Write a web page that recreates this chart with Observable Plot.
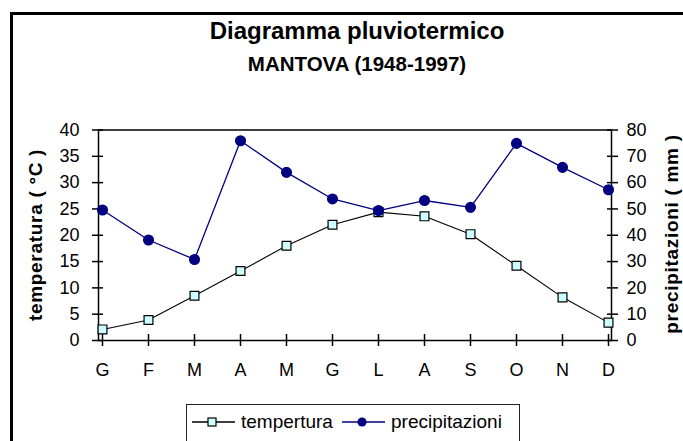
<!DOCTYPE html>
<html>
<head>
<meta charset="utf-8">
<script src="https://cdn.jsdelivr.net/npm/d3@7"></script>
<script src="https://cdn.jsdelivr.net/npm/@observablehq/plot@0.6"></script>
<style>
  html, body { margin: 0; padding: 0; background: #fff; }
  #wrap { position: relative; width: 683px; height: 441px; overflow: hidden; font-family: "Liberation Sans", Arial, sans-serif; background: #fff; }
  #frame { position: absolute; left: 10px; top: 12px; width: 720px; height: 500px; border: 3px solid #000; pointer-events: none; }
  #plot { position: absolute; left: 0; top: 0; }
  .title { position: absolute; left: 357px; transform: translateX(-50%); white-space: nowrap; color: #000; }
  #t1 { top: 17px; font-size: 24px; font-weight: bold; }
  #t2 { top: 52px; font-size: 20.5px; font-weight: bold; }
  .ylab { position: absolute; white-space: nowrap; font-size: 19px; font-weight: bold; letter-spacing: 0.7px; transform: translate(-50%, -50%) rotate(-90deg); }
  #legend { position: absolute; left: 186px; top: 404px; width: 332px; height: 60px; border: 1.5px solid #222; background: #fff; }
  #legend .item { position: absolute; top: 6px; display: flex; align-items: center; font-size: 19px; }
  #legend svg { display: block; margin-right: 6px; }
</style>
</head>
<body>
<div id="wrap">
  <div id="plot"></div>
  <div id="frame"></div>
  <div class="title" id="t1">Diagramma pluviotermico</div>
  <div class="title" id="t2">MANTOVA (1948-1997)</div>
  <div class="ylab" id="ylL" style="left:36px; top:235px;">temperatura ( °C )</div>
  <div class="ylab" id="ylR" style="left:672px; top:234px;">precipitazioni ( mm )</div>
  <div id="legend"></div>
</div>
<script>
const months = ["G","F","M","A","M","G","L","A","S","O","N","D"];
const temperatura = [2.1, 3.9, 8.5, 13.2, 18.0, 22.0, 24.4, 23.6, 20.2, 14.2, 8.2, 3.4];
const precipitazioni = [49.6, 38.2, 30.8, 75.9, 63.9, 53.8, 49.4, 53.2, 50.6, 74.9, 65.8, 57.3];
const tempTicks = [0, 5, 10, 15, 20, 25, 30, 35, 40];
const seriesNames = ["tempertura", "precipitazioni"];

const tempColor = "#000000";
const tempFill = "#ccffff";
const precColor = "#000080";
const ratio = 2; // precipitation mm per °C on the shared vertical scale

const idx = d3.range(months.length);

const chart = Plot.plot({
  width: 683,
  height: 441,
  marginLeft: 98,
  marginRight: 72,
  marginTop: 129.5,
  marginBottom: 101,
  style: { fontFamily: "'Liberation Sans', Arial, sans-serif", fontSize: "18px", background: "transparent", color: "#000" },
  x: { type: "point", domain: idx, padding: 0 },
  y: { domain: [0, 40] },
  marks: [
    Plot.frame({ stroke: "#000", strokeWidth: 1.5 }),
    Plot.axisY({ anchor: "left", ticks: tempTicks, tickSize: 11, dx: 5, tickPadding: 13, label: null, strokeWidth: 1.5 }),
    Plot.axisY({ anchor: "right", ticks: tempTicks, tickSize: 11, dx: -5, tickPadding: 9, label: null, strokeWidth: 1.5, tickFormat: d => d * ratio }),
    Plot.axisX({ anchor: "bottom", ticks: idx, tickSize: 12, dy: -6, tickPadding: 17, label: null, strokeWidth: 1.5, tickFormat: i => months[i] }),
    Plot.line(idx, { x: i => i, y: i => precipitazioni[i] / ratio, stroke: precColor, strokeWidth: 1.3 }),
    Plot.line(idx, { x: i => i, y: i => temperatura[i], stroke: tempColor, strokeWidth: 1.1 }),
    Plot.dot(idx, { x: i => i, y: i => temperatura[i], symbol: "square", r: 5, fill: tempFill, stroke: "#000", strokeWidth: 1.2 }),
    Plot.dot(idx, { x: i => i, y: i => precipitazioni[i] / ratio, r: 4.8, fill: precColor, stroke: precColor })
  ]
});
document.getElementById("plot").appendChild(chart);

// legend
const legend = document.getElementById("legend");
const items = [
  { name: seriesNames[0], left: 5, line: tempColor, marker: `<rect x="16" y="7" width="8" height="8" fill="${tempFill}" stroke="#000" stroke-width="1.2"/>` },
  { name: seriesNames[1], left: 155, line: precColor, marker: `<circle cx="20" cy="11" r="4.6" fill="${precColor}"/>` }
];
for (const it of items) {
  const d = document.createElement("div");
  d.className = "item";
  d.style.left = it.left + "px";
  d.innerHTML = `<svg width="43" height="22"><line x1="0" x2="43" y1="11" y2="11" stroke="${it.line}" stroke-width="1.3"/>${it.marker}</svg><span>${it.name}</span>`;
  legend.appendChild(d);
}
</script>
</body>
</html>
